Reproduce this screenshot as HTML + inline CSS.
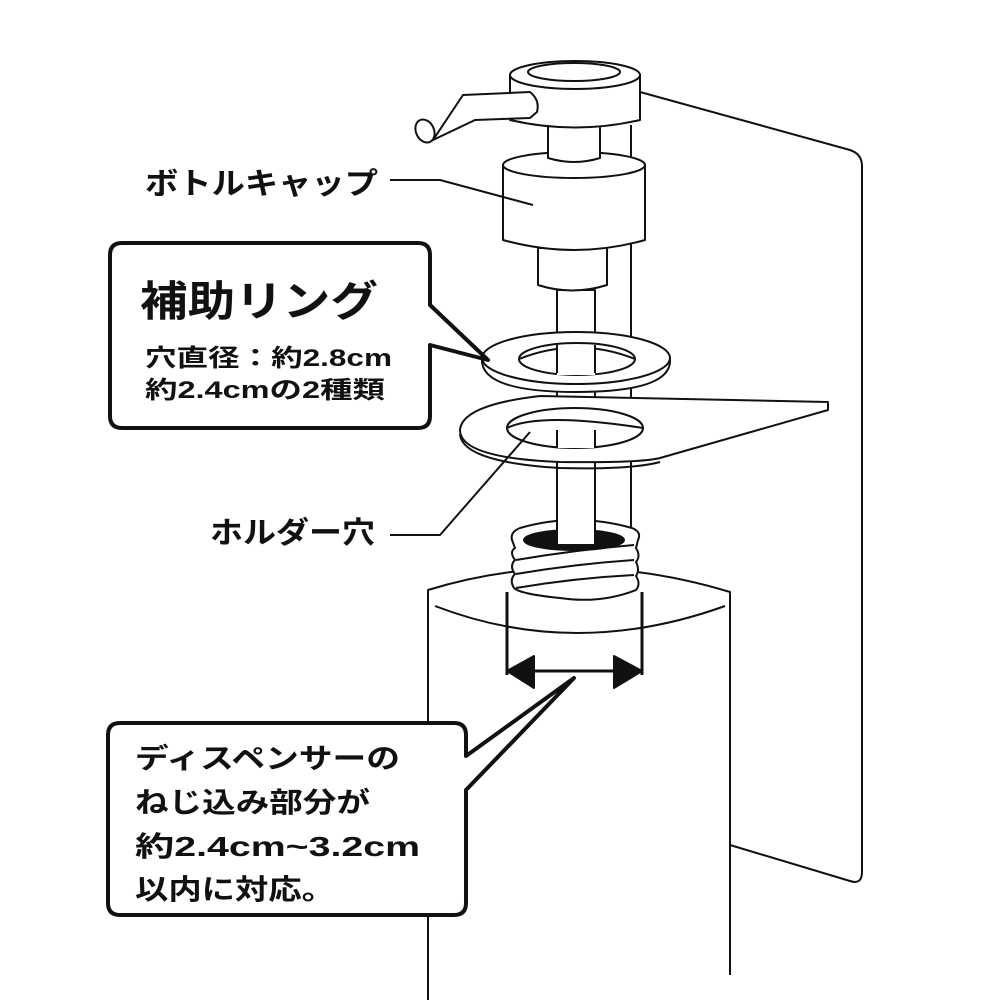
<!DOCTYPE html>
<html><head><meta charset="utf-8"><style>
body{margin:0;background:#fff}
svg{display:block}
text{font-family:"Liberation Sans","Noto Sans CJK JP",sans-serif;font-weight:bold;fill:#111}
</style></head><body>
<svg width="1000" height="1000" viewBox="0 0 1000 1000" xmlns="http://www.w3.org/2000/svg">
<g fill="#fff" stroke="#111" stroke-width="2" stroke-linejoin="round">
<path d="M640 92 L850 150 Q862 154 862 166 L862 872 Q862 885 850 881 L730 845" fill="none"/>
<line x1="631" y1="125" x2="631" y2="530"/>
<path d="M428 1000 L428 590 Q575 545 730 592 L730 975" fill="#fff"/>
<path d="M435 606 Q575 660 725 606" fill="none"/>
<path d="M512 540 Q510 532 520 528 Q575 512 632 528 Q642 532 638 540 L636 548 Q641 556 636 562 Q640 570 636 576 Q641 584 636 590 Q600 604 560 598 Q520 594 514 588 Q509 580 515 574 Q509 566 515 560 Q509 552 515 548 Z"/>
<ellipse cx="574" cy="540" rx="50" ry="10" fill="#111"/>
<path d="M516 560 Q575 550 634 545 M516 574 Q575 564 634 560 M516 588 Q575 578 634 575" fill="none"/>
<rect x="557" y="290" width="38" height="255"/>
<path d="M460 434 Q462 462 560 468 Q630 470 660 462" fill="none"/>
<path d="M540 396 L828 402 L828 410 L660 458 Q640 463 560 462 Q460 458 460 430 Q462 405 540 396 Z"/>
<ellipse cx="575" cy="428" rx="68" ry="20" fill="#fff"/>
<path d="M507 428 Q540 412 643 428" fill="none"/>
<rect x="557" y="428" width="38" height="20" stroke="none"/>
<line x1="557" y1="430" x2="557" y2="448"/><line x1="595" y1="430" x2="595" y2="448"/>
<path d="M482 358 L482 362 Q485 392 576 392 Q668 392 670 362 L670 358" />
<ellipse cx="576" cy="358" rx="94" ry="26"/>
<ellipse cx="577" cy="359" rx="58" ry="16"/>
<path d="M519 359 Q577 336 635 359" fill="none"/>
<rect x="557" y="345" width="38" height="30" stroke="none"/>
<line x1="557" y1="345" x2="557" y2="373"/><line x1="595" y1="345" x2="595" y2="373"/>
<path d="M538 248 L538 285 Q572 296 607 285 L607 248 Z"/>
<path d="M503 165 L503 240 Q575 260 645 240 L645 165 Z"/>
<ellipse cx="574" cy="165" rx="71" ry="13"/>
<path d="M548 122 L548 158 Q574 166 600 158 L600 122 Z"/>
<path d="M510 75 L510 120 Q575 135 640 120 L640 75 Z"/>
<ellipse cx="575" cy="75" rx="65" ry="14"/>
<ellipse cx="574" cy="72" rx="46" ry="9"/>
<path d="M463 95 L530 92 Q540 100 537 112 L530 118 L475 120 L433 140 Z"/>
<ellipse cx="425" cy="131" rx="9" ry="12" transform="rotate(-25 425 131)"/>
<line x1="507" y1="592" x2="507" y2="675" stroke-width="3"/>
<line x1="642" y1="592" x2="642" y2="675" stroke-width="3"/>
<line x1="520" y1="671" x2="630" y2="671" stroke-width="3"/>
<path d="M507 671 L534 656 L534 688 Z M642 671 L614 656 L614 688 Z" fill="#111"/>
<path d="M390 180 L440 180 L533 205" fill="none"/>
<path d="M390 535 L440 535 L530 432" fill="none"/>
<path d="M122 243 L418 243 Q430 243 430 255 L430 305 L488 360 L430 345 L430 416 Q430 428 418 428 L122 428 Q110 428 110 416 L110 255 Q110 243 122 243 Z" stroke-width="4"/>
<path d="M120 723 L454 723 Q466 723 466 735 L466 756 L574 678 L466 790 L466 903 Q466 915 454 915 L120 915 Q108 915 108 903 L108 735 Q108 723 120 723 Z" stroke-width="4"/>
</g>
<text x="145" y="194" font-size="30" textLength="233" lengthAdjust="spacingAndGlyphs">ボトルキャップ</text>
<text x="140" y="316" font-size="42" textLength="238" lengthAdjust="spacingAndGlyphs">補助リング</text>
<text x="145" y="366" font-size="24" textLength="247" lengthAdjust="spacingAndGlyphs">穴直径：約2.8cm</text>
<text x="145" y="398" font-size="24" textLength="240" lengthAdjust="spacingAndGlyphs">約2.4cmの2種類</text>
<text x="210" y="543" font-size="30" textLength="165" lengthAdjust="spacingAndGlyphs">ホルダー穴</text>
<text x="135" y="768" font-size="28" textLength="265" lengthAdjust="spacingAndGlyphs">ディスペンサーの</text>
<text x="135" y="812" font-size="28" textLength="235" lengthAdjust="spacingAndGlyphs">ねじ込み部分が</text>
<text x="135" y="856" font-size="28" textLength="285" lengthAdjust="spacingAndGlyphs">約2.4cm~3.2cm</text>
<text x="135" y="899" font-size="28" textLength="200" lengthAdjust="spacingAndGlyphs">以内に対応。</text>
</svg>
</body></html>
